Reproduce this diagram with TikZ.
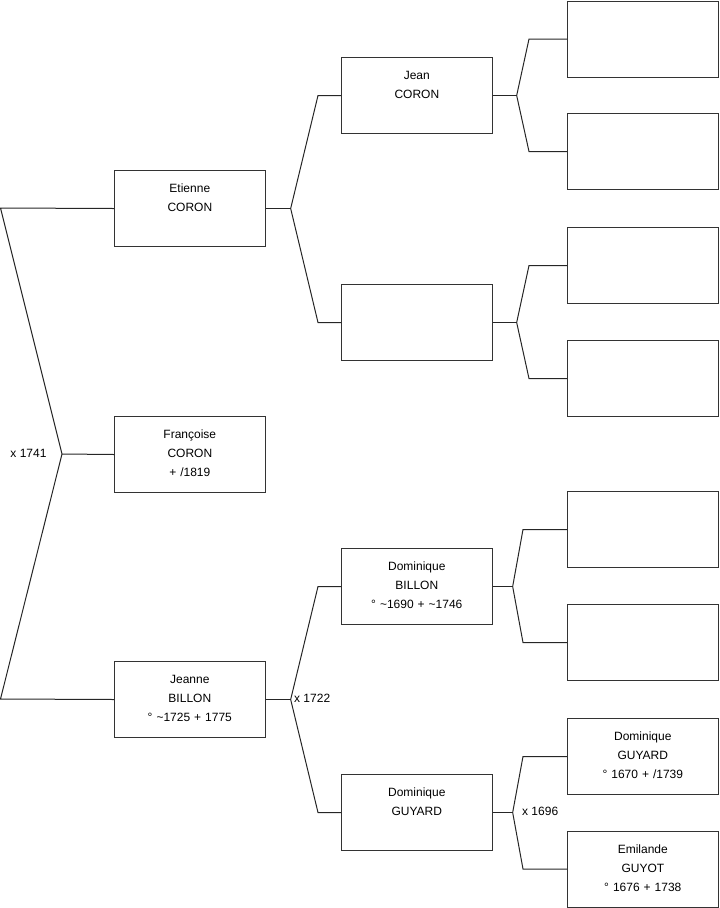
\documentclass[tikz,border=0pt]{standalone}
\usepackage{fontspec}
\setmainfont{Liberation Sans}
\usetikzlibrary{calc}

\begin{document}
\begin{tikzpicture}[
  x=0.75pt, y=-0.75pt,
  line width=0.75pt,
  pers/.style={draw=black!80, anchor=north west, inner sep=0pt,
               text width=113pt, align=center,
               text height=16.5pt, text depth=40.5pt,
               font=\fontsize{9pt}{14.25pt}\selectfont},
  mar/.style={inner sep=0pt, font=\fontsize{9pt}{11pt}\selectfont},
  lnk/.style={draw=black!85},
]
\useasboundingbox (0,0) rectangle (719,908);

% ---------- first column ----------
\node[pers] (etienne) at (114,170) {Etienne\\CORON};
\node[pers] (francoise) at (114,416) {Françoise\\CORON\\+ /1819};
\node[pers] (jeanne) at (114,661) {Jeanne\\BILLON\\° \textasciitilde1725 + 1775};

% ---------- parents ----------
\node[pers] (jean) at (341,57) {Jean\\CORON};
\node[pers] (etmother) at (341,284) {};
\node[pers] (dombillon) at (341,548) {Dominique\\BILLON\\° \textasciitilde1690 + \textasciitilde1746};
\node[pers] (domguyard) at (341,774) {Dominique\\GUYARD};

% ---------- grandparents ----------
\node[pers] (jeanfa) at (567,0.5) {};
\node[pers] (jeanmo) at (567,113) {};
\node[pers] (etmofa) at (567,227) {};
\node[pers] (etmomo) at (567,340) {};
\node[pers] (dbfa) at (567,491) {};
\node[pers] (dbmo) at (567,604) {};
\node[pers] (dgfa) at (567,718) {Dominique\\GUYARD\\° 1670 + /1739};
\node[pers] (emilande) at (567,830.5) {Emilande\\GUYOT\\° 1676 + 1738};

% ---------- forks ----------
\coordinate (m0) at (62,454);
\coordinate (m0t) at (0.5,208);
\coordinate (m0b) at (0.5,699);
\coordinate (m1) at ($(etienne.east)+(25,0)$);
\coordinate (m2) at ($(jeanne.east)+(25,0)$);
\coordinate (m3) at ($(jean.east)+(24,0)$);
\coordinate (m4) at ($(etmother.east)+(24,0)$);
\coordinate (m5) at ($(dombillon.east)+(20,0)$);
\coordinate (m6) at ($(domguyard.east)+(20,0)$);

\draw[lnk] (etienne.west) -- (m0t) -- (m0) -- (m0b) -- (jeanne.west);
\draw[lnk] (m0) -- (francoise.west);

\draw[lnk] (etienne.east) -- (m1);
\draw[lnk] (m1) -- ($(jean.west)+(-23,0)$) -- (jean.west);
\draw[lnk] (m1) -- ($(etmother.west)+(-23,0)$) -- (etmother.west);

\draw[lnk] (jeanne.east) -- (m2);
\draw[lnk] (m2) -- ($(dombillon.west)+(-23,0)$) -- (dombillon.west);
\draw[lnk] (m2) -- ($(domguyard.west)+(-23,0)$) -- (domguyard.west);

\draw[lnk] (jean.east) -- (m3);
\draw[lnk] (m3) -- ($(jeanfa.west)+(-38,0)$) -- (jeanfa.west);
\draw[lnk] (m3) -- ($(jeanmo.west)+(-38,0)$) -- (jeanmo.west);

\draw[lnk] (etmother.east) -- (m4);
\draw[lnk] (m4) -- ($(etmofa.west)+(-38,0)$) -- (etmofa.west);
\draw[lnk] (m4) -- ($(etmomo.west)+(-38,0)$) -- (etmomo.west);

\draw[lnk] (dombillon.east) -- (m5);
\draw[lnk] (m5) -- ($(dbfa.west)+(-44,0)$) -- (dbfa.west);
\draw[lnk] (m5) -- ($(dbmo.west)+(-44,0)$) -- (dbmo.west);

\draw[lnk] (domguyard.east) -- (m6);
\draw[lnk] (m6) -- ($(dgfa.west)+(-44,0)$) -- (dgfa.west);
\draw[lnk] (m6) -- ($(emilande.west)+(-44,0)$) -- (emilande.west);

% ---------- marriages ----------
\node[mar, anchor=east] (x1741) at ($(m0)+(-15,-1)$) {x 1741};
\node[mar, anchor=west] (x1722) at ($(m2)+(3,-1)$) {x 1722};
\node[mar, anchor=west] (x1696) at ($(m6)+(9,-1)$) {x 1696};

\end{tikzpicture}
\end{document}
